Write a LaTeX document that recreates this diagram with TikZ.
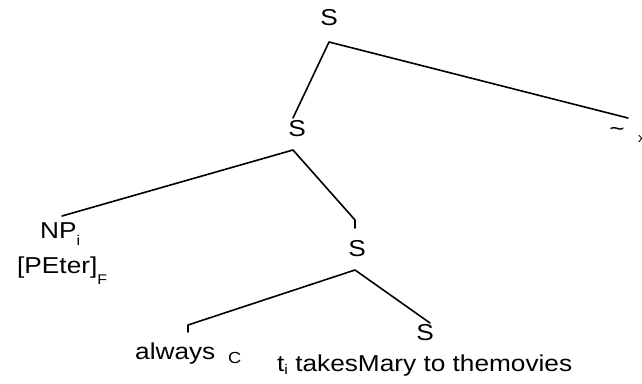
\documentclass[tikz,border=0pt]{standalone}
\usepackage{fontspec}
\setmainfont{Liberation Sans}[FakeStretch=1.14]
\newcommand{\lowsub}[2]{\raisebox{#1}{\fontsize{14}{14}\selectfont #2}}
\begin{document}
\begin{tikzpicture}[x=1pt,y=-1pt,
  lab/.style={inner sep=0pt,font=\fontsize{23}{25}\selectfont},
  br/.style={line width=1.6pt,line cap=round,line join=round}]
\useasboundingbox (0,0) rectangle (642,383);
% labels
\node[lab] (s1) at (329,18) {S};
\node[lab] (s2) at (297,129) {S};
\node[lab] (tilde) at (617,132) {\textasciitilde};
\node[lab,font=\fontsize{13}{14}\selectfont,anchor=base west] (xx) at (638,142) {x};
\node[lab,anchor=base west] (np) at (40,238) {NP\lowsub{-7pt}{i}};
\node[lab,anchor=base west] (peter) at (17,273) {[PEter]\lowsub{-11pt}{F}};
\node[lab] (s3) at (357,249) {S};
\node[lab] (s4) at (425,333) {S};
\node[lab,anchor=base west] (always) at (135,359) {always};
\node[lab,font=\fontsize{16}{18}\selectfont,anchor=base west] (cc) at (228,363) {C};
\node[lab,anchor=base west] (rest) at (277,371) {t\lowsub{-3pt}{i} takesMary to themovies};
% vertices
\coordinate (a) at (329,42);
\coordinate (b) at (293,150);
\coordinate (c) at (355,270);
\coordinate (r) at (628,118);
\coordinate (l1) at (293,118);
\coordinate (np1) at (62,216);
\coordinate (s3a) at (355,220);
\coordinate (s3b) at (355,228);
\coordinate (al1) at (188,325);
\coordinate (al2) at (188,332);
\coordinate (s4a) at (430,323);
% branches
\draw[br] (l1) -- (a) -- (r);
\draw[br] (np1) -- (b) -- (s3a) -- (s3b);
\draw[br] (al2) -- (al1) -- (c) -- (s4a);
\end{tikzpicture}
\end{document}
